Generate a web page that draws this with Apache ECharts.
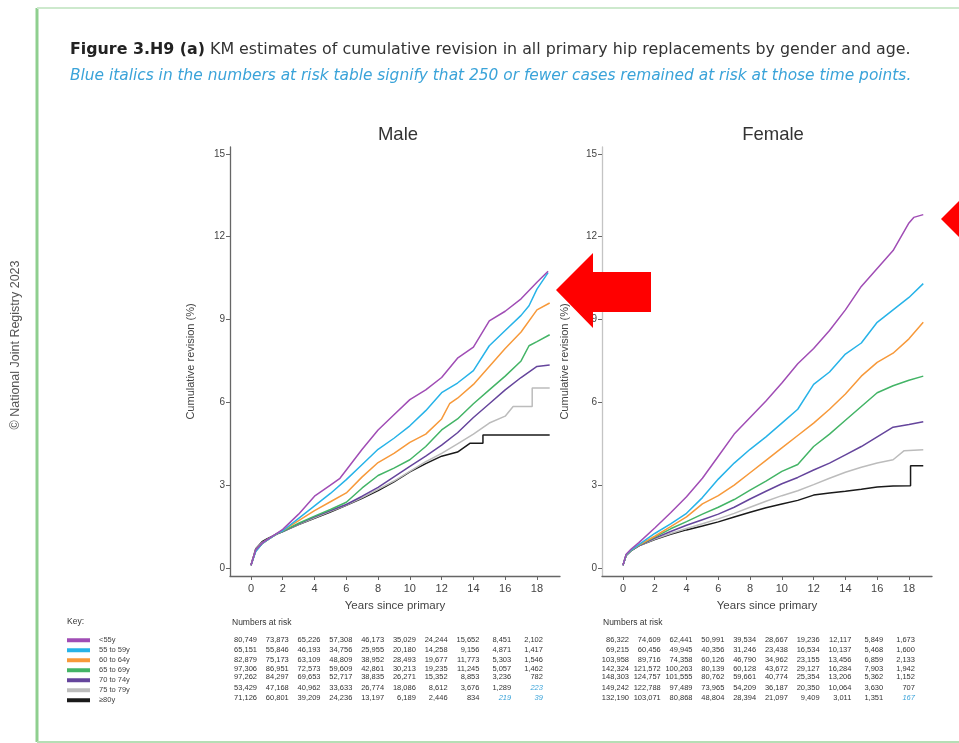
<!DOCTYPE html>
<html><head><meta charset="utf-8">
<script src="https://cdn.jsdelivr.net/npm/echarts@6/dist/echarts.min.js"></script>
<style>html,body{margin:0;padding:0;background:#fff}#c{width:959px;height:743px}</style>
</head><body><div id="c"></div>
<script>
// ---------- DATA ----------
const ageGroups = ['<55y', '55 to 59y', '60 to 64y', '65 to 69y', '70 to 74y', '75 to 79y', '≥80y'];
const xTicks = [0, 2, 4, 6, 8, 10, 12, 14, 16, 18];
const yTicks = [0, 3, 6, 9, 12, 15];

// Male KM curves [years, cumulative revision %]
const maleU55 = [[0,0.1],[0.3,0.65],[0.7,0.9],[1,1.02],[1.7,1.28],[2,1.4],[3,1.95],[4,2.6],[5,3.0],[5.6,3.25],[6,3.55],[7,4.3],[8,5.0],[9,5.55],[10,6.1],[11,6.45],[12,6.9],[13,7.6],[14,8.0],[15,8.95],[16,9.3],[17,9.75],[18,10.35],[18.7,10.75]];
const male5559 = [[0,0.1],[0.3,0.6],[0.7,0.88],[1,1.0],[1.7,1.27],[2,1.35],[3,1.8],[4,2.25],[5,2.7],[6,3.2],[7,3.75],[8,4.3],[9,4.7],[10,5.15],[11,5.7],[12,6.35],[13,6.7],[14,7.15],[15,8.05],[16,8.6],[17,9.15],[17.5,9.5],[18,10.1],[18.7,10.7]];
const male6064 = [[0,0.1],[0.3,0.62],[0.7,0.88],[1,1.0],[1.7,1.27],[2,1.35],[3,1.72],[4,2.08],[5,2.4],[6,2.72],[7,3.3],[8,3.82],[9,4.15],[10,4.55],[11,4.85],[12,5.4],[12.5,5.95],[13,6.15],[14,6.65],[15,7.3],[16,7.95],[17,8.55],[18,9.35],[18.8,9.6]];
const male6569 = [[0,0.1],[0.3,0.62],[0.7,0.88],[1,1.0],[1.7,1.26],[2,1.33],[3,1.62],[4,1.88],[5,2.12],[6,2.38],[7,2.9],[8,3.35],[9,3.62],[10,3.92],[11,4.4],[12,5.0],[13,5.4],[14,5.95],[15,6.45],[16,6.95],[17,7.5],[17.5,8.05],[18,8.2],[18.8,8.45]];
const male7074 = [[0,0.1],[0.3,0.65],[0.7,0.9],[1,1.02],[1.7,1.26],[2,1.32],[3,1.6],[4,1.85],[5,2.08],[6,2.3],[7,2.6],[8,2.92],[9,3.3],[10,3.68],[11,4.05],[12,4.45],[13,4.9],[14,5.45],[15,5.95],[16,6.45],[17,6.9],[18,7.3],[18.8,7.35]];
const male7579 = [[0,0.1],[0.3,0.68],[0.7,0.92],[1,1.03],[1.7,1.26],[2,1.32],[3,1.58],[4,1.82],[5,2.05],[6,2.28],[7,2.55],[8,2.85],[9,3.15],[10,3.5],[11,3.85],[12,4.15],[13,4.5],[14,4.85],[15,5.25],[16,5.5],[16.5,5.85],[17.7,5.85],[17.7,6.52],[18.8,6.52]];
const male80 = [[0,0.1],[0.3,0.7],[0.7,0.95],[1,1.05],[1.7,1.25],[2,1.32],[3,1.57],[4,1.8],[5,2.03],[6,2.27],[7,2.52],[8,2.8],[9,3.12],[10,3.48],[11,3.78],[12,4.05],[13,4.2],[13.8,4.52],[14.6,4.52],[14.6,4.82],[18.8,4.82]];

// Female KM curves
const femaleU55 = [[0,0.1],[0.2,0.5],[0.5,0.68],[1,0.92],[2,1.45],[3,2.0],[4,2.58],[5,3.25],[6,4.05],[7,4.85],[8,5.45],[9,6.05],[10,6.7],[11,7.4],[12,7.95],[13,8.6],[14,9.35],[15,10.2],[16,10.85],[17,11.5],[18,12.5],[18.3,12.7],[18.9,12.8]];
const female5559 = [[0,0.1],[0.2,0.48],[0.5,0.65],[1,0.85],[2,1.25],[3,1.6],[4,1.98],[5,2.55],[6,3.22],[7,3.8],[8,4.3],[9,4.75],[10,5.25],[11,5.75],[12,6.65],[13,7.1],[14,7.75],[15,8.15],[16,8.9],[17,9.35],[18,9.8],[18.9,10.3]];
const female6064 = [[0,0.1],[0.2,0.48],[0.5,0.65],[1,0.83],[2,1.15],[3,1.5],[4,1.85],[5,2.32],[6,2.62],[7,3.0],[8,3.45],[9,3.9],[10,4.35],[11,4.8],[12,5.25],[13,5.75],[14,6.3],[15,6.95],[16,7.45],[17,7.78],[18,8.3],[18.9,8.9]];
const female6569 = [[0,0.1],[0.2,0.46],[0.5,0.63],[1,0.82],[2,1.12],[3,1.42],[4,1.68],[5,1.95],[6,2.2],[7,2.48],[8,2.82],[9,3.15],[10,3.5],[11,3.75],[12,4.4],[13,4.85],[14,5.35],[15,5.85],[16,6.35],[17,6.6],[18,6.8],[18.9,6.95]];
const female7074 = [[0,0.1],[0.2,0.46],[0.5,0.63],[1,0.8],[2,1.08],[3,1.32],[4,1.55],[5,1.75],[6,1.95],[7,2.2],[8,2.5],[9,2.78],[10,3.05],[11,3.28],[12,3.55],[13,3.8],[14,4.1],[15,4.4],[16,4.75],[17,5.1],[18,5.2],[18.9,5.3]];
const female7579 = [[0,0.1],[0.2,0.46],[0.5,0.63],[1,0.8],[2,1.05],[3,1.25],[4,1.43],[5,1.6],[6,1.78],[7,1.98],[8,2.2],[9,2.42],[10,2.62],[11,2.8],[12,3.02],[13,3.25],[14,3.47],[15,3.65],[16,3.8],[17,3.92],[17.7,4.25],[18.9,4.28]];
const female80 = [[0,0.1],[0.2,0.45],[0.5,0.62],[1,0.8],[2,1.03],[3,1.22],[4,1.38],[5,1.52],[6,1.67],[7,1.85],[8,2.02],[9,2.18],[10,2.32],[11,2.45],[12,2.64],[13,2.72],[14,2.78],[15,2.85],[16,2.93],[17,2.97],[18.1,2.98],[18.1,3.7],[18.9,3.7]];

// Numbers at risk (columns at years 0,2,...,18)
const maleRisk = [
  [80749, 73873, 65226, 57308, 46173, 35029, 24244, 15652, 8451, 2102],
  [65151, 55846, 46193, 34756, 25955, 20180, 14258, 9156, 4871, 1417],
  [82879, 75173, 63109, 48809, 38952, 28493, 19677, 11773, 5303, 1546],
  [97306, 86951, 72573, 59609, 42861, 30213, 19235, 11245, 5057, 1462],
  [97262, 84297, 69653, 52717, 38835, 26271, 15352, 8853, 3236, 782],
  [53429, 47168, 40962, 33633, 26774, 18086, 8612, 3676, 1289, 223],
  [71126, 60801, 39209, 24236, 13197, 6189, 2446, 834, 219, 39]
];
const femaleRisk = [
  [86322, 74609, 62441, 50991, 39534, 28667, 19236, 12117, 5849, 1673],
  [69215, 60456, 49945, 40356, 31246, 23438, 16534, 10137, 5468, 1600],
  [103958, 89716, 74358, 60126, 46790, 34962, 23155, 13456, 6859, 2133],
  [142324, 121572, 100263, 80139, 60128, 43672, 29127, 16284, 7903, 1942],
  [148303, 124757, 101555, 80762, 59661, 40774, 25354, 13206, 5362, 1152],
  [149242, 122788, 97489, 73965, 54209, 36187, 20350, 10064, 3630, 707],
  [132190, 103071, 80868, 48804, 28394, 21097, 9409, 3011, 1351, 167]
];

// ---------- STYLE ----------
const colors = ['#a04db5', '#27b3e8', '#f7993a', '#43b466', '#65459c', '#bcbcbc', '#1a1a1a'];
const maleSeries = [maleU55, male5559, male6064, male6569, male7074, male7579, male80];
const femaleSeries = [femaleU55, female5559, female6064, female6569, female7074, female7579, female80];
const FONT = 'Liberation Sans, Arial, sans-serif';
const WIDE = 'DejaVu Sans, Verdana, sans-serif';

const chart = echarts.init(document.getElementById('c'), null, {renderer: 'canvas'});

function xAxisCfg(grid) {
  return {
    type: 'value', gridIndex: grid, min: -1.32, max: 19.45,
    axisLine: {show: true, onZero: false, lineStyle: {color: '#666', width: 1.3}},
    axisTick: {show: true, customValues: xTicks, length: 4, lineStyle: {color: '#666'}},
    axisLabel: {customValues: xTicks, color: '#444', fontSize: 11, fontFamily: FONT, margin: 7},
    splitLine: {show: false},
    name: 'Years since primary', nameLocation: 'middle', nameGap: 24,
    nameTextStyle: {color: '#444', fontSize: 11.5, fontFamily: FONT}
  };
}
function yAxisCfg(grid, lineColor, gap) {
  return {
    type: 'value', gridIndex: grid, min: -0.29, max: 15.25,
    axisLine: {show: true, onZero: false, lineStyle: {color: lineColor, width: 1.3}},
    axisTick: {show: true, customValues: yTicks, length: 4, lineStyle: {color: '#666'}},
    axisLabel: {customValues: yTicks, color: '#444', fontSize: 10, fontFamily: FONT, margin: 5},
    splitLine: {show: false},
    name: 'Cumulative revision (%)', nameLocation: 'middle', nameGap: gap, nameRotate: 90,
    nameTextStyle: {color: '#444', fontSize: 11, fontFamily: FONT}
  };
}

const series = [];
maleSeries.forEach((d, i) => series.push({
  name: ageGroups[i], type: 'line', xAxisIndex: 0, yAxisIndex: 0, data: d,
  showSymbol: false, symbol: 'none', lineStyle: {width: 1.5, color: colors[i]}, itemStyle: {color: colors[i]},
  z: 10 - i, animation: false
}));
femaleSeries.forEach((d, i) => series.push({
  name: ageGroups[i], type: 'line', xAxisIndex: 1, yAxisIndex: 1, data: d,
  showSymbol: false, symbol: 'none', lineStyle: {width: 1.5, color: colors[i]}, itemStyle: {color: colors[i]},
  z: 10 - i, animation: false
}));

const option = {
  backgroundColor: '#fff',
  animation: false,
  title: [
    {text: '{b|Figure 3.H9 (a)} KM estimates of cumulative revision in all primary hip replacements by gender and age.',
     left: 70, top: 42, padding: 0,
     textStyle: {fontSize: 15.85, fontWeight: 'normal', color: '#333', fontFamily: WIDE,
       rich: {b: {fontSize: 15.85, fontWeight: 'bold', color: '#222', fontFamily: WIDE}}}},
    {text: 'Blue italics in the numbers at risk table signify that 250 or fewer cases remained at risk at those time points.',
     left: 70, top: 68, padding: 0,
     textStyle: {fontSize: 15.4, fontWeight: 'normal', fontStyle: 'italic', color: '#3aa3d9', fontFamily: WIDE}},
    {text: 'Male', left: 393, top: 120, textAlign: 'center', textStyle: {fontSize: 18.5, fontWeight: 'normal', color: '#333', fontFamily: FONT}},
    {text: 'Female', left: 768, top: 120, textAlign: 'center', textStyle: {fontSize: 18.5, fontWeight: 'normal', color: '#333', fontFamily: FONT}}
  ],
  legend: {
    orient: 'vertical', left: 67, top: 636, padding: 0, itemWidth: 23, itemHeight: 4, itemGap: 1.5,
    icon: 'rect', data: ageGroups, selectedMode: false,
    textStyle: {fontSize: 7.5, lineHeight: 8.5, color: '#444', fontFamily: FONT, padding: [0, 0, 0, 4]}
  },
  grid: [
    {left: 230, top: 147, width: 330, height: 429},
    {left: 602, top: 147, width: 330, height: 429}
  ],
  xAxis: [xAxisCfg(0), xAxisCfg(1)],
  yAxis: [yAxisCfg(0, '#666', 34), yAxisCfg(1, '#c4c4c4', 32)],
  series: series
};
chart.setOption(option);

// ---------- ANNOTATIONS / TABLE ----------
const g = [];
// frame
g.push({type: 'line', shape: {x1: 37, y1: 8, x2: 37, y2: 742}, style: {stroke: '#8fcf8f', lineWidth: 3}});
g.push({type: 'line', shape: {x1: 37, y1: 8, x2: 959, y2: 8}, style: {stroke: '#cde9cd', lineWidth: 2}});
g.push({type: 'line', shape: {x1: 37, y1: 742, x2: 959, y2: 742}, style: {stroke: '#b5deb5', lineWidth: 2}});
// copyright
g.push({type: 'text', x: 16, y: 345, rotation: Math.PI / 2,
  style: {text: '© National Joint Registry 2023', fill: '#555', fontSize: 12.5, fontFamily: FONT, align: 'center', verticalAlign: 'middle'}});
// Key and table headers
g.push({type: 'text', x: 67, y: 622, style: {text: 'Key:', fill: '#333', fontSize: 8.5, fontFamily: FONT, verticalAlign: 'middle'}});
g.push({type: 'text', x: 232, y: 623, style: {text: 'Numbers at risk', fill: '#333', fontSize: 8.5, fontFamily: FONT, verticalAlign: 'middle'}});
g.push({type: 'text', x: 603, y: 623, style: {text: 'Numbers at risk', fill: '#333', fontSize: 8.5, fontFamily: FONT, verticalAlign: 'middle'}});

const rowY = [640, 650, 660, 669, 677, 688, 698];
function fmt(n) { return n.toLocaleString('en-GB'); }
function addTable(risk, gridIndex) {
  risk.forEach((row, r) => {
    row.forEach((v, c) => {
      const px = chart.convertToPixel({gridIndex: gridIndex}, [xTicks[c], 0])[0];
      const low = v <= 250;
      g.push({type: 'text', x: px + 6, y: rowY[r],
        style: {text: fmt(v), fill: low ? '#3aa3d9' : '#333', fontSize: 7.5, fontFamily: FONT,
          fontStyle: low ? 'italic' : 'normal', align: 'right', verticalAlign: 'middle'}});
    });
  });
}
addTable(maleRisk, 0);
addTable(femaleRisk, 1);

// red arrows
g.push({type: 'polygon', shape: {points: [[556, 290], [593, 253], [593, 272], [651, 272], [651, 312], [593, 312], [593, 328]]},
  style: {fill: '#ff0000'}, z: 100});
g.push({type: 'polygon', shape: {points: [[941, 219], [980, 180], [980, 258]]}, style: {fill: '#ff0000'}, z: 100});

chart.setOption({graphic: g});
</script></body></html>
